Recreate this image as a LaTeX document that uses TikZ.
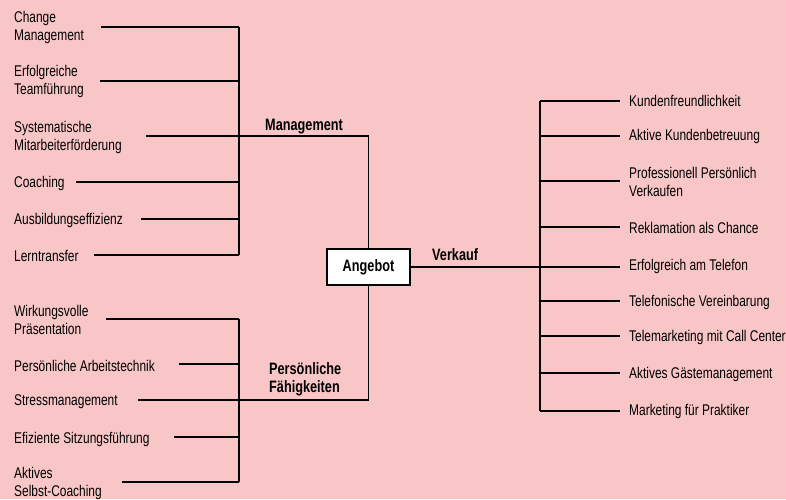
\documentclass[tikz,border=0pt]{standalone}
\usepackage{fontspec}
\setmainfont{Liberation Sans}[FakeStretch=0.77]
\definecolor{bgpink}{RGB}{248,198,198}
\tikzset{
  lbl/.style={anchor=west, inner sep=0pt, align=left, font=\fontsize{15.5}{18}\selectfont},
  head/.style={anchor=west, inner sep=0pt, align=left, font=\fontsize{16.5}{18}\selectfont\bfseries},
  conn/.style={line width=1.1pt},
  box/.style={draw, line width=1.3pt, fill=white, minimum width=83pt, minimum height=36pt, inner sep=0pt, font=\fontsize{16.5}{18}\selectfont\bfseries}
}
\begin{document}
\begin{tikzpicture}[x=1pt,y=-1pt]
\fill[bgpink] (0,0) rectangle (786,499);
\useasboundingbox (0,0) rectangle (786,499);

% central box
\node[box] (ang) at (368.5,267) {Angebot};

% headings
\node[head] (hm) at (265,127) {Management};
\node[head] (hv) at (432,255) {Verkauf};
\node[head] (hp) at (269,379.5) {Persönliche\\Fähigkeiten};

% Management branch
\coordinate (vmt) at (239,27);
\coordinate (vmb) at (239,255);
\draw[conn] (vmt) -- (vmb);
\node[lbl] (m1) at (14,27) {Change\\Management};
\node[lbl] (m2) at (14,81.5) {Erfolgreiche\\Teamführung};
\node[lbl] (m3) at (14,137) {Systematische\\Mitarbeiterförderung};
\node[lbl] (m4) at (14,183) {Coaching};
\node[lbl] (m5) at (14,220) {Ausbildungseffizienz};
\node[lbl] (m6) at (14,256) {Lerntransfer};
\coordinate (cm1) at (101,27);
\coordinate (cm2) at (100,81);
\coordinate (cm3) at (146,136);
\coordinate (cm4) at (76,182);
\coordinate (cm5) at (141,219);
\coordinate (cm6) at (94,255);
\foreach \c in {cm1,cm2,cm4,cm5,cm6} \draw[conn] (\c) -- (\c -| vmt);
\draw[conn] (cm3) -| (ang.north);

% Persoenliche Faehigkeiten branch
\coordinate (vpt) at (239,319);
\coordinate (vpb) at (239,482);
\draw[conn] (vpt) -- (vpb);
\node[lbl] (p1) at (14,320) {Wirkungsvolle\\Präsentation};
\node[lbl] (p2) at (14,366) {Persönliche Arbeitstechnik};
\node[lbl] (p3) at (14,402) {Stressmanagement};
\node[lbl] (p4) at (14,439) {Efiziente Sitzungsführung};
\node[lbl] (p5) at (14,483) {Aktives\\Selbst-Coaching};
\coordinate (cp1) at (106,319);
\coordinate (cp2) at (179,364);
\coordinate (cp3) at (138,400);
\coordinate (cp4) at (174,437);
\coordinate (cp5) at (122,482);
\foreach \c in {cp1,cp2,cp4,cp5} \draw[conn] (\c) -- (\c -| vpt);
\draw[conn] (cp3) -| (ang.south);

% Verkauf branch
\coordinate (vvt) at (540,101);
\coordinate (vvb) at (540,411);
\draw[conn] (vvt) -- (vvb);
\node[lbl] (v1) at (629,101) {Kundenfreundlichkeit};
\node[lbl] (v2) at (629,136) {Aktive Kundenbetreuung};
\node[lbl] (v3) at (629,182) {Professionell Persönlich\\Verkaufen};
\node[lbl] (v4) at (629,228) {Reklamation als Chance};
\node[lbl] (v5) at (629,266) {Erfolgreich am Telefon};
\node[lbl] (v6) at (629,302) {Telefonische Vereinbarung};
\node[lbl] (v7) at (629,337) {Telemarketing mit Call Center};
\node[lbl] (v8) at (629,374) {Aktives Gästemanagement};
\node[lbl] (v9) at (629,411) {Marketing für Praktiker};
\coordinate (cv1) at (620,101);
\coordinate (cv2) at (620,136);
\coordinate (cv3) at (620,181);
\coordinate (cv4) at (620,227);
\coordinate (cv6) at (620,301);
\coordinate (cv7) at (620,336);
\coordinate (cv8) at (620,373);
\coordinate (cv9) at (620,411);
\foreach \c in {cv1,cv2,cv3,cv4,cv6,cv7,cv8,cv9} \draw[conn] (\c -| vvt) -- (\c);
\coordinate (cv5) at (620,266);
\draw[conn] (ang.east) -- (ang.east -| cv5);
\end{tikzpicture}
\end{document}
